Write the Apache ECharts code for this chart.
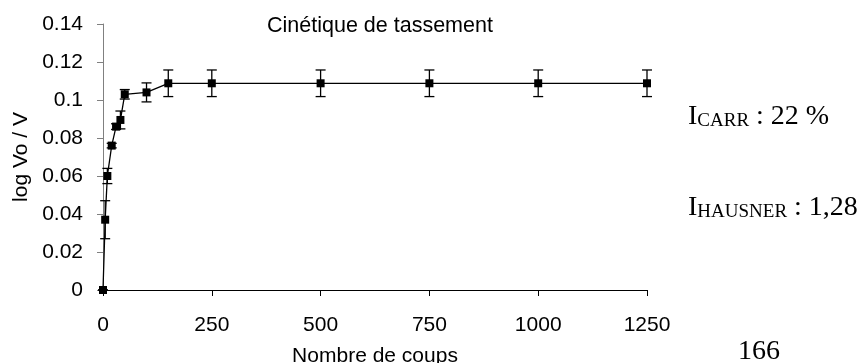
<!DOCTYPE html>
<html>
<head>
<meta charset="utf-8">
<script src="https://cdn.jsdelivr.net/npm/echarts@6/dist/echarts.min.js"></script>
<style>
  html, body { margin: 0; padding: 0; background: #ffffff; }
  #chart { width: 866px; height: 363px; }
</style>
</head>
<body>
<div id="chart"></div>
<script>
// Data
const coups = [0, 5, 10, 20, 30, 40, 50, 100, 150, 250, 500, 750, 1000, 1250];
const logVoV = [0, 0.037, 0.060, 0.076, 0.086, 0.0895, 0.103, 0.104, 0.1088, 0.1088, 0.1088, 0.1088, 0.1088, 0.1088];
const errVals = [0, 0.010, 0.004, 0.0012, 0.0015, 0.0047, 0.0025, 0.005, 0.007, 0.007, 0.007, 0.007, 0.007, 0.007];
const xTicks = { min: 0, max: 1250, step: 250 };
const yTicks = { min: 0, max: 0.14, step: 0.02 };

const titleText = 'Cinétique de tassement';
const xName = 'Nombre de coups';
const yName = 'log Vo / V';

const lineData = coups.map((x, i) => [x, logVoV[i]]);
const errData = coups.map((x, i) => [x, logVoV[i], errVals[i]]);

const sans = 'Liberation Sans, Arial, sans-serif';
const serif = 'Liberation Serif, Times New Roman, serif';

const chart = echarts.init(document.getElementById('chart'), null, { renderer: 'canvas' });

chart.setOption({
  backgroundColor: '#ffffff',
  animation: false,
  title: {
    text: titleText,
    left: 267,
    top: 15,
    padding: 0,
    textStyle: { fontFamily: sans, fontSize: 21.5, fontWeight: 'normal', color: '#000' }
  },
  grid: { left: 103, right: 219, top: 24, bottom: 73, containLabel: false, outerBoundsMode: 'none' },
  xAxis: {
    type: 'value',
    min: xTicks.min, max: xTicks.max, interval: xTicks.step,
    name: xName,
    nameLocation: 'middle',
    nameGap: 56,
    nameTextStyle: { fontFamily: sans, fontSize: 21, color: '#000' },
    axisLine: { show: true, onZero: false, lineStyle: { color: '#000', width: 1 } },
    axisTick: { show: true, length: 6, lineStyle: { color: '#000' } },
    axisLabel: { margin: 25, fontFamily: sans, fontSize: 21, color: '#000', formatter: function (v) { return String(v); } },
    splitLine: { show: false }
  },
  yAxis: {
    type: 'value',
    min: yTicks.min, max: yTicks.max, interval: yTicks.step,
    name: yName,
    nameLocation: 'middle',
    nameGap: 71,
    nameRotate: 90,
    nameTextStyle: { fontFamily: sans, fontSize: 21, color: '#000' },
    axisLine: { show: true, lineStyle: { color: '#808080', width: 1 } },
    axisTick: { show: true, length: 6, lineStyle: { color: '#808080' } },
    axisLabel: { margin: 20, fontFamily: sans, fontSize: 21, color: '#000' },
    splitLine: { show: false }
  },
  series: [
    {
      type: 'custom',
      name: 'erreur',
      data: errData,
      z: 2,
      renderItem: function (params, api) {
        const x = api.value(0), y = api.value(1), e = api.value(2);
        const top = api.coord([x, y + e]);
        const bot = api.coord([x, y - e]);
        const hw = 5;
        const st = { stroke: '#000', lineWidth: 1.3 };
        return {
          type: 'group',
          children: [
            { type: 'line', shape: { x1: top[0], y1: top[1], x2: bot[0], y2: bot[1] }, style: st },
            { type: 'line', shape: { x1: top[0] - hw, y1: top[1], x2: top[0] + hw, y2: top[1] }, style: st },
            { type: 'line', shape: { x1: bot[0] - hw, y1: bot[1], x2: bot[0] + hw, y2: bot[1] }, style: st }
          ]
        };
      }
    },
    {
      type: 'line',
      name: 'log Vo / V',
      data: lineData,
      z: 3,
      symbol: 'rect',
      symbolSize: 8,
      showAllSymbol: true,
      lineStyle: { color: '#000', width: 1.3 },
      itemStyle: { color: '#000' }
    }
  ],
  graphic: [
    {
      type: 'text',
      x: 688, y: 131,
      style: {
        text: '{a|I}{b|CARR}{a| : 22 %}',
        align: 'left', textAlign: 'left',
        verticalAlign: 'bottom', textVerticalAlign: 'bottom',
        rich: {
          a: { fontFamily: serif, fontSize: 28, color: '#000', verticalAlign: 'bottom' },
          b: { fontFamily: serif, fontSize: 19, color: '#000', verticalAlign: 'bottom' }
        }
      }
    },
    {
      type: 'text',
      x: 688, y: 222,
      style: {
        text: '{a|I}{b|HAUSNER}{a| : 1,28}',
        align: 'left', textAlign: 'left',
        verticalAlign: 'bottom', textVerticalAlign: 'bottom',
        rich: {
          a: { fontFamily: serif, fontSize: 28, color: '#000', verticalAlign: 'bottom' },
          b: { fontFamily: serif, fontSize: 19, color: '#000', verticalAlign: 'bottom' }
        }
      }
    },
    {
      type: 'text',
      x: 738, y: 366,
      style: {
        text: '166',
        font: '28px ' + serif,
        fill: '#000',
        align: 'left', textAlign: 'left',
        verticalAlign: 'bottom', textVerticalAlign: 'bottom'
      }
    }
  ]
});
</script>
</body>
</html>
